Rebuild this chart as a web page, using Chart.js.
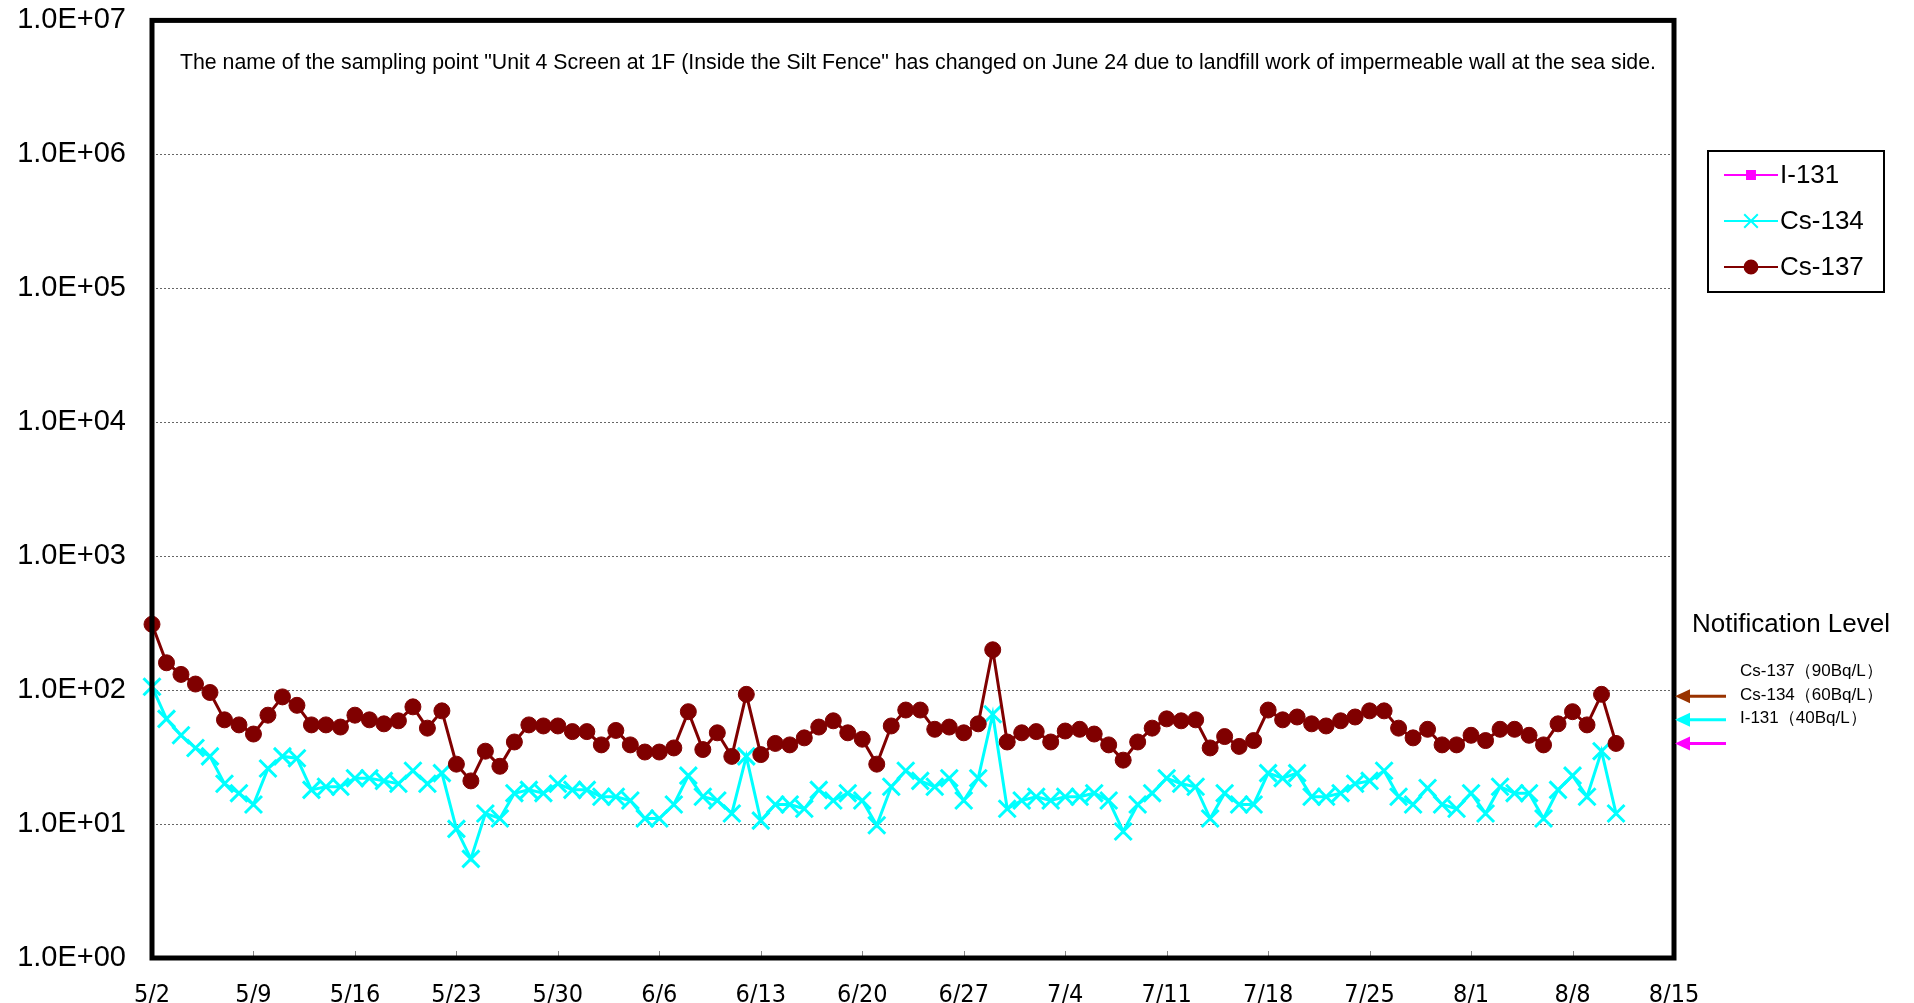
<!DOCTYPE html>
<html>
<head>
<meta charset="utf-8">
<script src="https://cdn.jsdelivr.net/npm/chart.js@4.4.1/dist/chart.umd.min.js"></script>
<style>
    html, body { margin: 0; padding: 0; background: #fff; }
    canvas { display: block; }
</style>
</head>
<body>
<canvas id="grafico" width="1914" height="1003"></canvas>
<script>
// every day on the axis, 5/2 .. 8/15
const dates = [
    '5/2','5/3','5/4','5/5','5/6','5/7','5/8','5/9','5/10','5/11','5/12','5/13','5/14','5/15','5/16',
    '5/17','5/18','5/19','5/20','5/21','5/22','5/23','5/24','5/25','5/26','5/27','5/28','5/29','5/30','5/31',
    '6/1','6/2','6/3','6/4','6/5','6/6','6/7','6/8','6/9','6/10','6/11','6/12','6/13','6/14','6/15',
    '6/16','6/17','6/18','6/19','6/20','6/21','6/22','6/23','6/24','6/25','6/26','6/27','6/28','6/29','6/30',
    '7/1','7/2','7/3','7/4','7/5','7/6','7/7','7/8','7/9','7/10','7/11','7/12','7/13','7/14','7/15','7/16',
    '7/17','7/18','7/19','7/20','7/21','7/22','7/23','7/24','7/25','7/26','7/27','7/28','7/29','7/30','7/31',
    '8/1','8/2','8/3','8/4','8/5','8/6','8/7','8/8','8/9','8/10','8/11','8/12','8/13','8/14','8/15'
];
const xTicks = ['5/2','5/9','5/16','5/23','5/30','6/6','6/13','6/20','6/27','7/4','7/11','7/18','7/25','8/1','8/8','8/15'];
const yTicks = [1, 10, 100, 1000, 10000, 100000, 1000000, 10000000];
const yTickLabels = ['1.0E+00','1.0E+01','1.0E+02','1.0E+03','1.0E+04','1.0E+05','1.0E+06','1.0E+07'];

// Bq/L, 5/2 .. 8/11
const i131 = [];
const cs134 = [
    106, 61, 46, 37, 32, 20, 17, 14, 26, 32, 31, 18, 19, 19, 22, 22, 21, 20, 25, 20, 24, 9.2,
    5.5, 12, 11, 17, 18, 17, 20, 18, 18, 16, 16, 15, 11, 11, 14, 23, 16, 15, 12, 32, 10.6, 14,
    14, 13, 18, 15, 17, 15, 9.8, 19, 25, 21, 19, 22, 15, 22, 66, 13, 15, 16, 15, 16, 16, 17,
    15, 8.8, 14, 17, 22, 20, 19, 11, 17, 14, 14, 24, 22, 24, 16, 16, 17, 20, 21, 25, 16, 14,
    18.6, 14, 13, 17, 12, 19, 17, 17, 11, 18, 23, 16, 35, 12
];
const cs137 = [
    310, 160, 131, 111, 96, 60, 55, 47, 65, 89, 77, 55, 55, 53, 65, 60, 56, 59, 75, 52, 70, 28,
    21, 35, 27, 41, 55, 54, 54, 49, 49, 39, 50, 39, 34.5, 34.5, 37, 69, 36, 48, 32, 93, 33, 40,
    39, 44, 53, 59, 48, 43, 28, 54, 71, 71, 51, 53, 48, 56, 200, 41, 48, 49, 41, 49.5, 51, 47,
    39, 30, 41, 52, 61, 59, 60, 37, 45, 38, 42, 71, 60, 63, 56, 54, 59, 63, 70, 70, 52, 44,
    51, 39, 39, 46, 42, 51, 51, 46, 39, 56, 69, 55, 93, 40
];

// notification levels (arrows on the right side)
const levelNames = ['Cs-137（90Bq/L）', 'Cs-134（60Bq/L）', 'I-131（40Bq/L）'];
const levelValues = [90, 60, 40];
const levelColors = ['#993300', '#00ffff', '#ff00ff'];

const note = 'The name of the sampling point "Unit 4 Screen at 1F (Inside the Silt Fence" has changed on June 24 due to landfill work of impermeable wall at the sea side.';

const series = [
    { label: 'I-131', data: i131, color: '#ff00ff', style: 'rect', radius: 7, width: 1 },
    { label: 'Cs-134', data: cs134, color: '#00ffff', style: 'crossRot', radius: 12, width: 3 },
    { label: 'Cs-137', data: cs137, color: '#800000', style: 'circle', radius: 8, width: 1 }
];

const extras = {
    id: 'extras',
    afterDraw(chart) {
        const ctx = chart.ctx;
        const a = chart.chartArea;
        const x = chart.scales.x;
        const y = chart.scales.y;
        ctx.save();

        // small ticks inside the frame
        ctx.strokeStyle = '#888';
        ctx.lineWidth = 1;
        xTicks.forEach(t => {
            const px = Math.round(x.getPixelForValue(dates.indexOf(t))) + 0.5;
            ctx.beginPath();
            ctx.moveTo(px, a.bottom);
            ctx.lineTo(px, a.bottom - 7);
            ctx.stroke();
        });

        // frame
        ctx.strokeStyle = '#000';
        ctx.lineWidth = 5;
        ctx.strokeRect(a.left, a.top, a.right - a.left, a.bottom - a.top);

        // note
        ctx.fillStyle = '#000';
        ctx.font = '21.3px "Liberation Sans", Arial, sans-serif';
        ctx.textBaseline = 'middle';
        ctx.textAlign = 'left';
        ctx.fillText(note, 180, 63);

        // legend
        const lx = 1708, ly = 151;
        ctx.lineWidth = 2;
        ctx.strokeStyle = '#000';
        ctx.strokeRect(lx, ly, 176, 141);
        ctx.font = '26px "Liberation Sans", Arial, sans-serif';
        series.forEach((s, i) => {
            const ry = ly + 24 + i * 46;
            ctx.strokeStyle = s.color;
            ctx.fillStyle = s.color;
            ctx.lineWidth = 2;
            ctx.beginPath();
            ctx.moveTo(lx + 16, ry);
            ctx.lineTo(lx + 70, ry);
            ctx.stroke();
            ctx.lineWidth = 2;
            Chart.helpers.drawPoint(ctx, { pointStyle: s.style, radius: s.radius * 0.8, borderWidth: 2, rotation: 0 }, lx + 43, ry);
            ctx.fillStyle = '#000';
            ctx.fillText(s.label, lx + 72, ry + 1);
        });

        // notification level
        ctx.fillStyle = '#000';
        ctx.font = '26px "Liberation Sans", Arial, sans-serif';
        ctx.fillText('Notification Level', 1692, 625);
        ctx.font = '17px "Liberation Sans", Arial, sans-serif';
        levelValues.forEach((v, i) => {
            const py = y.getPixelForValue(v);
            ctx.fillStyle = '#000';
            ctx.fillText(levelNames[i], 1740, py - 25);
            ctx.strokeStyle = levelColors[i];
            ctx.fillStyle = levelColors[i];
            ctx.lineWidth = 3;
            ctx.beginPath();
            ctx.moveTo(a.right + 12, py);
            ctx.lineTo(a.right + 52, py);
            ctx.stroke();
            ctx.beginPath();
            ctx.moveTo(a.right + 1, py);
            ctx.lineTo(a.right + 16, py - 7);
            ctx.lineTo(a.right + 16, py + 7);
            ctx.closePath();
            ctx.fill();
        });
        ctx.restore();
    }
};

new Chart(document.getElementById('grafico'), {
    type: 'line',
    data: {
        labels: dates,
        datasets: series.map((s, i) => ({
            label: s.label,
            data: s.data,
            borderColor: s.color,
            backgroundColor: s.color,
            borderWidth: 3,
            pointStyle: s.style,
            pointRadius: s.radius,
            pointBorderWidth: s.width,
            pointHoverRadius: s.radius,
            tension: 0,
            fill: false,
            clip: false,
            order: series.length - i
        }))
    },
    options: {
        responsive: false,
        animation: false,
        layout: { padding: { top: 0, right: 240, left: 0, bottom: 0 } },
        plugins: { legend: { display: false }, tooltip: { enabled: false } },
        scales: {
            x: {
                type: 'category',
                offset: false,
                grid: { display: false },
                border: { display: false },
                ticks: {
                    autoSkip: false,
                    maxRotation: 0,
                    padding: 14,
                    color: '#000',
                    font: { family: '"Liberation Sans Narrow", "DejaVu Sans Condensed", sans-serif', size: 25 },
                    callback: (v, i) => xTicks.includes(dates[i]) ? dates[i] : ''
                },
                afterFit: scale => { scale.height = 45; }
            },
            y: {
                type: 'logarithmic',
                min: 1,
                max: 10000000,
                afterBuildTicks: scale => { scale.ticks = yTicks.map(v => ({ value: v })); },
                grid: { color: '#666', lineWidth: 1, drawTicks: true, tickLength: 23, tickColor: 'rgba(0,0,0,0)' },
                border: { display: false, dash: [2, 2] },
                ticks: {
                    padding: 3,
                    color: '#000',
                    font: { family: '"Liberation Sans", Arial, sans-serif', size: 29 },
                    callback: (v, i) => yTickLabels[i]
                },
                afterFit: scale => { scale.width = 152; }
            }
        }
    },
    plugins: [extras]
});
</script>
</body>
</html>
